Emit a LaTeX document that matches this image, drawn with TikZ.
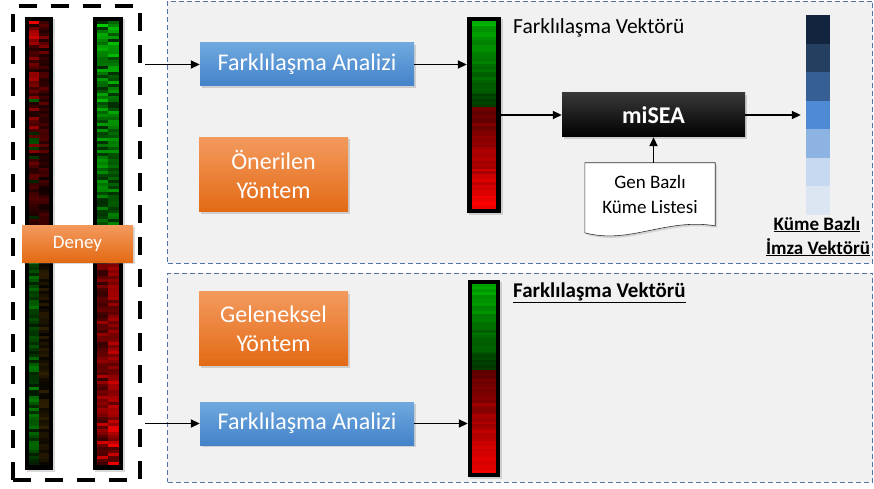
\documentclass[tikz,border=0pt]{standalone}
\usepackage{fontspec}
\setmainfont{Carlito}
\usetikzlibrary{arrows.meta,shadows,calc}
\definecolor{panelfill}{HTML}{F1F1F1}
\definecolor{paneldash}{HTML}{5472A8}
\definecolor{bluetop}{HTML}{6FA9DE}
\definecolor{bluebot}{HTML}{4482CA}
\definecolor{orangetop}{HTML}{F39A5E}
\definecolor{orangebot}{HTML}{E36A14}
\definecolor{sigA}{HTML}{13243F}
\definecolor{sigB}{HTML}{243F60}
\definecolor{sigC}{HTML}{355F95}
\definecolor{sigD}{HTML}{4F8AD4}
\definecolor{sigE}{HTML}{8DB3E2}
\definecolor{sigF}{HTML}{C6D9F1}
\definecolor{sigG}{HTML}{DCE6F2}
\tikzset{
  panel/.style={fill=panelfill, draw=paneldash, line width=0.8pt, dash pattern=on 5pt off 3pt},
  softshadow/.style={drop shadow={opacity=0.3, shadow xshift=2pt, shadow yshift=-2pt}},
  bluebox/.style={top color=bluetop, bottom color=bluebot, text=white, font=\fontsize{24}{29}\selectfont, minimum width=214pt, minimum height=43pt, inner sep=0pt, softshadow},
  orangebox/.style={top color=orangetop, bottom color=orangebot, text=white, font=\fontsize{24}{29}\selectfont, align=center, minimum width=149pt, minimum height=74pt, inner sep=0pt, softshadow},
  frame/.style={fill=black, inner sep=0pt, softshadow},
  conn/.style={line width=1.8pt, -{Triangle[length=9pt,width=8pt]}},
  lab/.style={font=\fontsize{21.5}{25}\selectfont, anchor=base west, inner sep=0pt},
  blab/.style={font=\bfseries\fontsize{19}{23}\selectfont, anchor=base, inner sep=0pt},
}
\begin{document}
\begin{tikzpicture}[x=1pt,y=-1pt]
\useasboundingbox (0,0) rectangle (874,489);
% panels
\node[panel, minimum width=705pt, minimum height=262pt, inner sep=0pt] (toppanel) at (520,132) {};
\node[panel, minimum width=705pt, minimum height=209pt, inner sep=0pt] (botpanel) at (520,377.5) {};

% experiment box and heatmap columns
\node[draw, line width=4pt, dash pattern=on 18pt off 14pt, minimum width=127pt, minimum height=474pt, inner sep=0pt] (exp) at (76.5,243) {};
\node[frame, minimum width=28pt, minimum height=453pt] (colL) at (39,243.5) {};
\node[frame, minimum width=30pt, minimum height=453pt] (colR) at (108,243.5) {};

% left column stripes
\pgfmathsetseed{11}
\foreach \i in {0,...,147}{
  \pgfmathsetmacro\ya{21+\i*3}
  \pgfmathsetmacro\yb{\ya+3.05}
  \pgfmathsetmacro\rr{rnd}
  \ifnum\i<74
    \pgfmathsetmacro\va{min(98,10+rnd*(88-1.05*\i))}
    \pgfmathsetmacro\vb{min(98,6+rnd*(50-0.45*\i))}
    \pgfmathsetmacro\rc{(\rr<0.0025*\i)?1:0}
    \ifdim\rc pt>0.5pt
      \fill[green!60!black!\va!black] (29,\ya) rectangle (39,\yb);
    \else
      \fill[red!\va!black] (29,\ya) rectangle (39,\yb);
    \fi
    \fill[red!\vb!black] (39,\ya) rectangle (49,\yb);
  \else
    \pgfmathsetmacro\va{min(98,15+rnd*55)}
    \pgfmathsetmacro\vb{min(98,5+rnd*25)}
    \fill[green!70!black!\va!black] (29,\ya) rectangle (39,\yb);
    \fill[red!60!green!\vb!black] (39,\ya) rectangle (49,\yb);
  \fi
}
% right column stripes
\pgfmathsetseed{23}
\foreach \i in {0,...,147}{
  \pgfmathsetmacro\ya{21+\i*3}
  \pgfmathsetmacro\yb{\ya+3.05}
  \ifnum\i<74
    \pgfmathsetmacro\va{min(98,20+rnd*(78-0.5*\i))}
    \pgfmathsetmacro\vb{min(98,20+rnd*(70-0.4*\i))}
    \fill[green!85!black!\va!black] (97,\ya) rectangle (108,\yb);
    \fill[green!85!black!\vb!black] (108,\ya) rectangle (119,\yb);
  \else
    \pgfmathsetmacro\va{min(98,20+rnd*(25+0.6*(\i-74)))}
    \pgfmathsetmacro\vb{min(98,30+rnd*(28+0.55*(\i-74)))}
    \fill[red!\va!black] (97,\ya) rectangle (108,\yb);
    \fill[red!\vb!black] (108,\ya) rectangle (119,\yb);
  \fi
}

\node[orangebox, font=\fontsize{19}{23}\selectfont, minimum width=111pt, minimum height=37pt] (deney) at (77.5,243.5) {Deney};

% top panel contents
\node[bluebox] (fa1) at (307,64.5) {Farklılaşma Analizi};
\node[orangebox] (oner) at (273.5,174.5) {Önerilen\\Yöntem};

\node[frame, minimum width=34pt, minimum height=196pt] (vec1) at (484,115) {};
\pgfmathsetseed{5}
\foreach \i in {0,...,69}{
  \pgfmathsetmacro\ya{21+\i*2.686}
  \pgfmathsetmacro\yb{\ya+2.72}
  \ifnum\i<32
    \pgfmathsetmacro\va{max(15,min(95,84-\i*1.75+rnd*16-8))}
    \fill[green!80!black!\va!black] (472,\ya) rectangle (496,\yb);
  \else
    \pgfmathsetmacro\va{max(15,min(98,36+(\i-32)*1.6+rnd*16-8))}
    \fill[red!\va!black] (472,\ya) rectangle (496,\yb);
  \fi
}
\node[lab] (lab1) at (513,34) {Farklılaşma Vektörü};

\node[frame, top color=black!78, bottom color=black, text=white, font=\bfseries\fontsize{24}{29}\selectfont, minimum width=183pt, minimum height=44pt] (misea) at (653.5,115) {miSEA};

\node[minimum width=130pt, minimum height=70pt, inner sep=0pt] (doc) at (650,198) {};
\filldraw[fill=white, draw=black!80, line width=0.6pt, drop shadow={opacity=0.25, shadow xshift=2pt, shadow yshift=-2pt}]
  (doc.north west) -- (doc.north east) -- ($(doc.north east)+(0,63)$)
  .. controls ($(doc.north east)+(-50,-8+63)$) and ($(doc.north west)+(45,82)$) .. ($(doc.north west)+(0,70)$) -- cycle;
\node[font=\fontsize{19}{23}\selectfont, anchor=base, inner sep=0pt] (doct1) at (650,188) {Gen Bazlı};
\node[font=\fontsize{19}{23}\selectfont, anchor=base, inner sep=0pt] (doct2) at (650,213) {Küme Listesi};

% signature vector
\node[inner sep=0pt, minimum width=24pt, minimum height=200pt] (sig) at (818,115) {};
\foreach \c [count=\k from 0] in {sigA,sigB,sigC,sigD,sigE,sigF,sigG}{
  \fill[\c] (806,{15+\k*28.57}) rectangle (830,{15+(\k+1)*28.57});
}
\node[blab] (sigl1) at (817,230) {\underline{Küme Bazlı}};
\node[blab] (sigl2) at (818,254) {\underline{İmza Vektörü}};

% bottom panel contents
\node[orangebox] (gel) at (273.5,328.5) {Geleneksel\\Yöntem};
\node[bluebox] (fa2) at (307,423.5) {Farklılaşma Analizi};
\node[frame, minimum width=32pt, minimum height=197pt] (vec2) at (484,378.5) {};
\pgfmathsetseed{9}
\foreach \i in {0,...,69}{
  \pgfmathsetmacro\ya{284+\i*2.7}
  \pgfmathsetmacro\yb{\ya+2.74}
  \ifnum\i<32
    \pgfmathsetmacro\va{max(15,min(95,82-\i*1.7+rnd*16-8))}
    \fill[green!80!black!\va!black] (472,\ya) rectangle (496,\yb);
  \else
    \pgfmathsetmacro\va{max(15,min(98,36+(\i-32)*1.6+rnd*16-8))}
    \fill[red!\va!black] (472,\ya) rectangle (496,\yb);
  \fi
}
\node[blab, font=\bfseries\fontsize{21}{25}\selectfont, anchor=base west] (lab2) at (513,297) {\underline{Farklılaşma Vektörü}};

% connectors
\draw[conn, shorten <=3pt] (exp.east |- fa1) -- (fa1);
\draw[conn] (fa1) -- (fa1 -| vec1.west);
\draw[conn] (misea -| vec1.east) -- (misea);
\draw[conn] (misea.south |- doc.north) -- (misea.south);
\draw[conn, shorten >=5pt] (misea) -- (misea -| sig.west);
\draw[conn, shorten <=3pt] (exp.east |- fa2) -- (fa2);
\draw[conn] (fa2) -- (fa2 -| vec2.west);
\end{tikzpicture}
\end{document}
